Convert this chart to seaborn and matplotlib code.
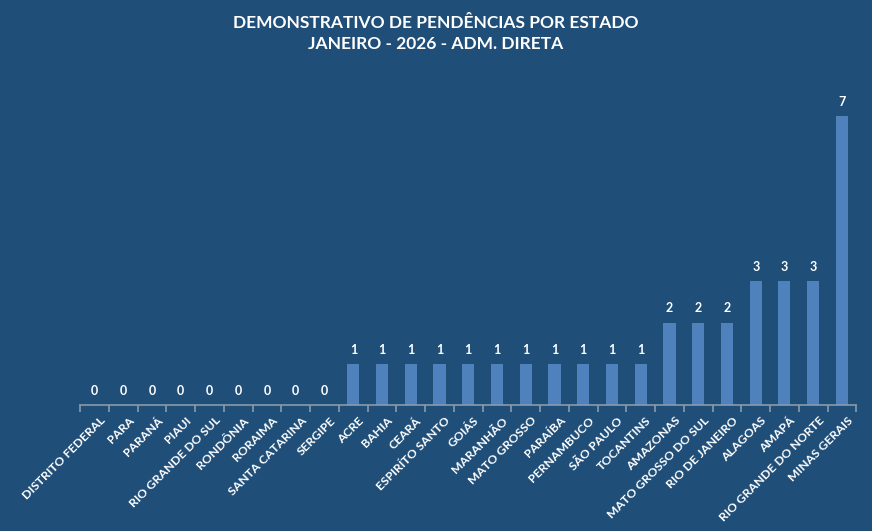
import matplotlib
matplotlib.use("Agg")
import matplotlib.pyplot as plt
import matplotlib.transforms as mtransforms
import seaborn as sns
import pandas as pd
import numpy as np

# dados
estados = [
    "DISTRITO FEDERAL", "PARA", "PARANÁ", "PIAUI", "RIO GRANDE DO SUL",
    "RONDÔNIA", "RORAIMA", "SANTA CATARINA", "SERGIPE", "ACRE", "BAHIA",
    "CEARÁ", "ESPIRÍTO SANTO", "GOIÁS", "MARANHÃO", "MATO GROSSO",
    "PARAÍBA", "PERNAMBUCO", "SÃO PAULO", "TOCANTINS", "AMAZONAS",
    "MATO GROSSO DO SUL", "RIO DE JANEIRO", "ALAGOAS", "AMAPÁ",
    "RIO GRANDE DO NORTE", "MINAS GERAIS",
]
pendencias = [0, 0, 0, 0, 0, 0, 0, 0, 0,
              1, 1, 1, 1, 1, 1, 1, 1, 1, 1, 1,
              2, 2, 2, 3, 3, 3, 7]
titulo = "DEMONSTRATIVO DE PENDÊNCIAS POR ESTADO\nJANEIRO - 2026 - ADM. DIRETA"

df = pd.DataFrame({"estado": estados, "pendencias": pendencias})

BG = "#1F4E79"
BAR = "#4F81BD"
GRID = "#8C9AAB"

sns.set_theme(style="white")
plt.rcParams["font.family"] = ["Lato", "DejaVu Sans"]

fig = plt.figure(figsize=(8.72, 5.31), dpi=100, facecolor=BG)
ax = fig.add_axes([0.092, 0.237, 0.890, 0.622])
ax.set_facecolor(BG)

sns.barplot(data=df, x="estado", y="pendencias", color=BAR, width=0.42,
            saturation=1, linewidth=0, edgecolor=BAR, ax=ax)

for i, v in enumerate(pendencias):
    ax.annotate(str(v), (i, v), xytext=(0, 6), textcoords="offset points",
                ha="center", va="bottom", color="white",
                fontsize=9, fontweight="bold")

ax.set_xlim(-0.5, len(estados) - 0.5)
ax.set_ylim(0, 8)
ax.set_yticks([])
ax.set_xlabel("")
ax.set_ylabel("")
for s in ["top", "right", "left"]:
    ax.spines[s].set_visible(False)
ax.spines["bottom"].set_color(GRID)
ax.spines["bottom"].set_linewidth(1.2)

ax.set_xticks(np.arange(len(estados)))
ax.set_xticklabels(estados, rotation=45, ha="right", rotation_mode="anchor",
                   color="white", fontsize=8.8, fontweight="bold")
ax.tick_params(axis="x", which="major", length=0, pad=7)
ax.set_xticks(np.arange(-0.5, len(estados)), minor=True)
ax.tick_params(axis="x", which="minor", length=5, color=GRID, width=1.2,
               direction="out", bottom=True)

# desloca os rótulos um pouco para a direita, como no Excel
shift = mtransforms.ScaledTranslation(5 / 100, 0, fig.dpi_scale_trans)
for lbl in ax.get_xticklabels():
    lbl.set_transform(lbl.get_transform() + shift)

fig.text(0.5, 0.937, titulo, ha="center", va="center", color="white",
         fontsize=12.5, fontweight="bold", linespacing=1.45)

plt.savefig("out.png", dpi=100, facecolor=BG)
plt.close()
